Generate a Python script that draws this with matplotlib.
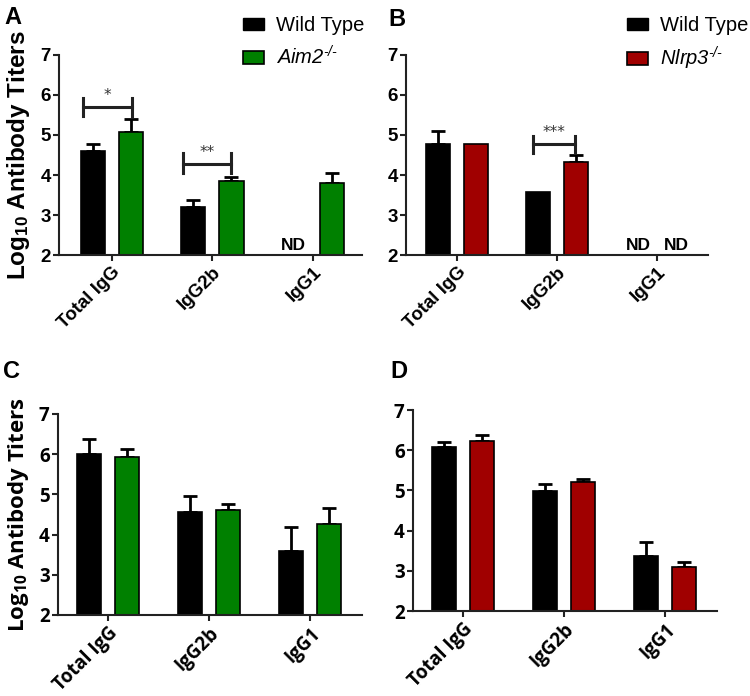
import matplotlib
matplotlib.use("Agg")
import matplotlib.pyplot as plt
from matplotlib.patches import Patch
import numpy as np

plt.rcParams["mathtext.default"] = "regular"

categories = ["Total IgG", "IgG2b", "IgG1"]

# panel A: wild type vs Aim2-/- (None = not detected)
a_wt = [4.60, 3.21, None]
a_wt_err = [0.17, 0.17, 0]
a_ko = [5.07, 3.85, 3.80]
a_ko_err = [0.33, 0.11, 0.25]

# panel B: wild type vs Nlrp3-/-
b_wt = [4.77, 3.57, None]
b_wt_err = [0.33, 0, 0]
b_ko = [4.77, 4.32, None]
b_ko_err = [0, 0.18, 0]

# panel C: wild type vs Aim2-/-
c_wt = [6.00, 4.57, 3.60]
c_wt_err = [0.38, 0.40, 0.60]
c_ko = [5.94, 4.60, 4.26]
c_ko_err = [0.19, 0.15, 0.41]

# panel D: wild type vs Nlrp3-/-
d_wt = [6.07, 4.98, 3.36]
d_wt_err = [0.14, 0.18, 0.35]
d_ko = [6.23, 5.20, 3.10]
d_ko_err = [0.15, 0.09, 0.11]

GREEN = "#008000"
RED = "#a00000"
W = 0.24
OFF = 0.19


def draw_panel(ax, wt, wt_err, ko, ko_err, color, font, xlim):
    x = np.arange(len(categories))
    for i in range(len(categories)):
        for val, err, off, col in [(wt[i], wt_err[i], -OFF, "black"),
                                   (ko[i], ko_err[i], OFF, color)]:
            if val is None:
                ax.text(x[i] + off, 2.06, "ND", ha="center", va="bottom",
                        fontsize=12.5, fontweight="bold", family=font)
                continue
            ax.bar(x[i] + off, val - 2, width=W, bottom=2, color=col,
                   edgecolor="black", linewidth=1.2, zorder=2)
            if err > 0:
                ax.errorbar(x[i] + off, val, yerr=[[0], [err]], fmt="none",
                            ecolor="black", elinewidth=2, capsize=5,
                            capthick=2, zorder=1)
    ax.set_ylim(2, 7)
    ax.set_xlim(*xlim)
    ax.set_yticks([2, 3, 4, 5, 6, 7])
    ax.set_xticks(x)
    ax.set_xticklabels(categories, rotation=45, ha="right",
                       rotation_mode="anchor", fontsize=13.5,
                       fontweight="bold", family=font)
    for lab in ax.get_yticklabels():
        lab.set_fontsize(13.5)
        lab.set_fontweight("bold")
        lab.set_family(font)
    for s in ["top", "right"]:
        ax.spines[s].set_visible(False)
    for s in ["left", "bottom"]:
        ax.spines[s].set_linewidth(1.5)
        ax.spines[s].set_color("#222222")
    ax.tick_params(axis="both", direction="out", length=4, width=1.5,
                   color="#222222", pad=2)


def bracket(ax, x0, x1, y, lo, hi, stars):
    ax.plot([x0, x1], [y, y], color="#222222", lw=2.2, zorder=3)
    ax.plot([x0, x0], [lo, hi], color="#222222", lw=2.2, zorder=3)
    ax.plot([x1, x1], [lo, hi], color="#222222", lw=2.2, zorder=3)
    ax.text((x0 + x1) / 2, y + 0.1, stars, ha="center", va="bottom",
            fontsize=11, color="#333333")


fig = plt.figure(figsize=(7.5, 6.96), dpi=100)
ax_a = fig.add_axes([0.0787, 0.6336, 0.404, 0.2874])
ax_b = fig.add_axes([0.5413, 0.6336, 0.4027, 0.2874])
ax_c = fig.add_axes([0.0773, 0.1164, 0.4053, 0.2888])
ax_d = fig.add_axes([0.5507, 0.1221, 0.4053, 0.2888])

draw_panel(ax_a, a_wt, a_wt_err, a_ko, a_ko_err, GREEN, "Liberation Sans", (-0.527, 2.49))
draw_panel(ax_b, b_wt, b_wt_err, b_ko, b_ko_err, RED, "Liberation Sans", (-0.51, 2.51))
draw_panel(ax_c, c_wt, c_wt_err, c_ko, c_ko_err, GREEN, "Open Sans", (-0.495, 2.515))
draw_panel(ax_d, d_wt, d_wt_err, d_ko, d_ko_err, RED, "Open Sans", (-0.495, 2.515))

bracket(ax_a, -0.29, 0.20, 5.70, 5.47, 5.93, "*")
bracket(ax_a, 0.71, 1.19, 4.27, 4.05, 4.55, "**")
bracket(ax_b, 0.76, 1.18, 4.77, 4.55, 4.97, "***")

ax_a.set_ylabel("Log$_{10}$ Antibody Titers", fontsize=17.5, fontweight="bold",
                family="Liberation Sans", labelpad=6)
ax_c.set_ylabel("Log$_{10}$ Antibody Titers", fontsize=16, fontweight="bold",
                family="Open Sans", labelpad=6)

# legends
for lx, color, name in [(243 / 750, GREEN, "Aim2$^{\u2010/\u2010}$"),
                        (627 / 750, RED, "Nlrp3$^{\u2010/\u2010}$")]:
    handles = [Patch(facecolor="black", edgecolor="black"),
               Patch(facecolor=color, edgecolor="black", linewidth=1.2)]
    leg = fig.legend(handles, ["Wild Type", name], loc="upper left",
                     bbox_to_anchor=(lx, 1 - 16 / 696), frameon=False,
                     borderpad=0, borderaxespad=0, handlelength=1.05,
                     handleheight=0.6, handletextpad=0.6, labelspacing=0.5,
                     prop={"family": "Liberation Sans", "size": 14.5})
    leg.get_texts()[1].set_fontstyle("italic")

# panel letters
for x, y, s in [(4, 6, "A"), (388, 8, "B"), (3, 360, "C"), (390, 360, "D")]:
    fig.text(x / 750, 1 - y / 696, s, fontsize=17, fontweight="bold",
             family="Liberation Sans", va="top", ha="left")

fig.savefig("out.png", dpi=100)
